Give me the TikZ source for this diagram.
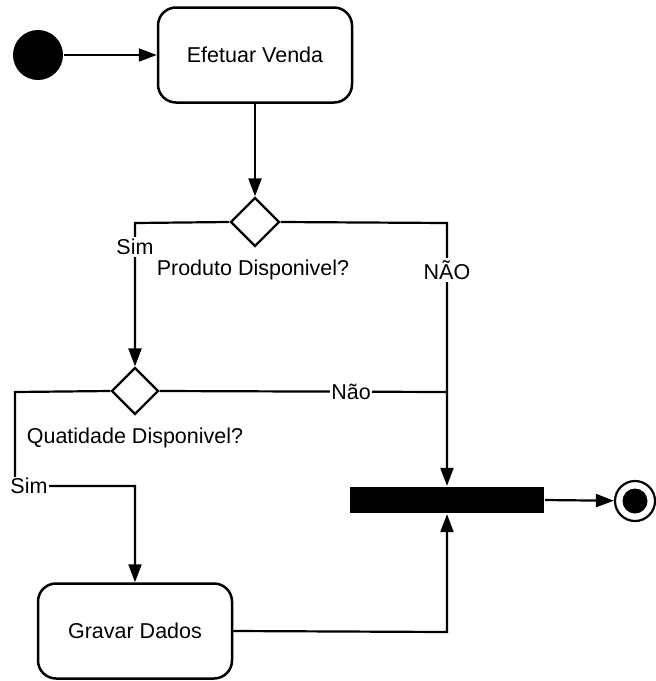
\documentclass[tikz,border=0pt]{standalone}
\usepackage{fontspec}
\setmainfont{Liberation Sans}
\usetikzlibrary{shapes.geometric,arrows.meta}
\begin{document}
\begin{tikzpicture}[x=1pt,y=-1pt,
  font=\fontsize{21.5}{25}\selectfont,
  line width=2.2pt,
  >={Triangle[length=18pt,width=13pt]},
  activity/.style={draw,line width=2.5pt,rounded corners=18pt,minimum width=194pt,minimum height=95pt},
  decision/.style={draw,diamond,aspect=1,line width=2.3pt,minimum width=49pt,minimum height=49pt,inner sep=0pt},
  lbl/.style={fill=white,inner sep=2pt},
  txt/.style={inner sep=0pt}]
\useasboundingbox (0,0) rectangle (656,681);
% start and end markers
\node[circle,fill=black,minimum size=50pt,inner sep=0pt] (start) at (38,55) {};
\node[circle,draw,line width=2.2pt,minimum size=40pt,inner sep=0pt] (final) at (635,501) {};
\node[circle,fill=black,minimum size=25pt,inner sep=0pt] (finalcore) at (635,501) {};
% activities
\node[activity] (venda) at (255,55) {Efetuar Venda};
\node[activity] (gravar) at (135,631) {Gravar Dados};
% decisions
\node[decision] (d1) at (255,222) {};
\node[decision,minimum width=47pt,minimum height=47pt] (d2) at (135,391) {};
% join bar
\node[rectangle,fill=black,minimum width=194pt,minimum height=26pt,inner sep=0pt] (bar) at (447,500) {};
% guard texts
\node[txt] (q1) at (253,270) {Produto Disponivel?};
\node[txt] (q2) at (135,438) {Quatidade Disponivel?};
% bends
\coordinate (c1) at (135,223);
\coordinate (c2) at (447,223);
\coordinate (c3) at (447,392);
\coordinate (c4) at (15,392);
\coordinate (c5) at (15,486);
\coordinate (c6) at (135,486);
\coordinate (c7) at (447,632);
% connectors
\draw[->] (start) -- (venda);
\draw[->] (venda) -- (d1);
\draw[->] (d1.west) -- (c1) -- (d2.north);
\draw[->] (d1.east) -- (c2) -- (bar.north);
\draw (d2.east) -- (c3);
\draw[->] (d2.west) -- (c4) -- (c5) -- (c6) -- (gravar.north);
\draw[->] (gravar.east) -- (c7) -- (bar.south);
\draw[->] (bar.east) -- (final);
% branch labels
\node[lbl] (sim1) at (135,247) {Sim};
\node[lbl] (nao1) at (447,270) {NÃO};
\node[lbl,inner sep=1pt] (nao2) at (351,392) {Não};
\node[lbl,inner sep=1pt] (sim2) at (29,486) {Sim};
\end{tikzpicture}
\end{document}
